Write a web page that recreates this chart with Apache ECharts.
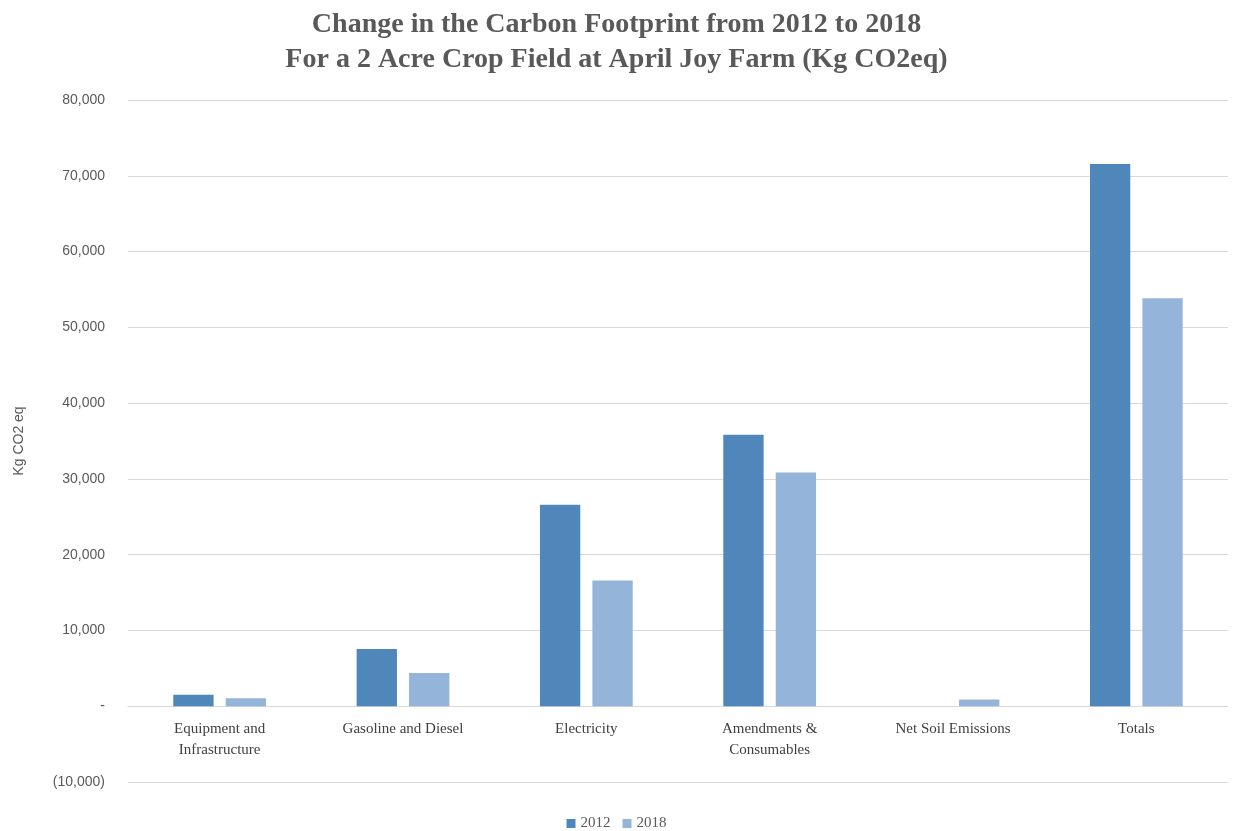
<!DOCTYPE html>
<html>
<head>
<meta charset="utf-8">
<script src="https://cdn.jsdelivr.net/npm/echarts@6/dist/echarts.min.js"></script>
<style>html,body{margin:0;padding:0;background:#fff;}#chart{width:1233px;height:831px;}</style>
</head>
<body>
<div id="chart"></div>
<script>
var categories = ["Equipment and\nInfrastructure", "Gasoline and Diesel", "Electricity", "Amendments &\nConsumables", "Net Soil Emissions", "Totals"];
var values2012 = [1500, 7550, 26600, 35840, 0, 71550];
var values2018 = [1050, 4390, 16600, 30830, 880, 53830];
var seriesNames = ["2012", "2018"];

var chart = echarts.init(document.getElementById('chart'));
var serif = "'Liberation Serif', 'DejaVu Serif', serif";
var sans = "'Liberation Sans', 'DejaVu Sans', sans-serif";
var gridTop = 100, gridBottom = 49, chartH = 831;
var yMin = -10000, yMax = 80000;
// place category axis at the zero line
var zeroOffset = -(chartH - gridTop - gridBottom) * (0 - yMin) / (yMax - yMin);
chart.setOption({
  animation: false,
  backgroundColor: '#ffffff',
  title: {
    text: 'Change in the Carbon Footprint from 2012 to 2018\nFor a 2 Acre Crop Field at April Joy Farm (Kg CO2eq)',
    left: 'center',
    top: 2,
    textStyle: { fontFamily: serif, fontSize: 28, fontWeight: 'bold', color: '#595959', lineHeight: 35 }
  },
  legend: {
    data: seriesNames,
    top: 811,
    left: 'center',
    itemWidth: 9,
    itemHeight: 9,
    itemGap: 12,
    icon: 'rect',
    textStyle: { fontFamily: serif, fontSize: 15, color: '#595959' }
  },
  grid: { left: 128, right: 5, top: gridTop, bottom: gridBottom },
  xAxis: {
    type: 'category',
    data: categories,
    offset: zeroOffset,
    axisTick: { show: false },
    axisLine: { show: true, onZero: false, lineStyle: { color: '#d9d9d9', width: 1 } },
    axisLabel: { fontFamily: serif, fontSize: 15, color: '#404040', lineHeight: 21, margin: 12 }
  },
  yAxis: {
    type: 'value',
    min: yMin,
    max: yMax,
    interval: 10000,
    name: 'Kg CO2 eq',
    nameLocation: 'middle',
    nameGap: 102,
    nameTextStyle: { fontFamily: sans, fontSize: 14, color: '#595959' },
    axisLine: { show: false },
    axisTick: { show: false },
    splitLine: { lineStyle: { color: '#d9d9d9', width: 1 } },
    axisLabel: {
      fontFamily: sans, fontSize: 14, color: '#595959', margin: 23,
      formatter: function (v) {
        if (v === 0) return '-';
        var s = Math.abs(v).toLocaleString('en-US');
        return v < 0 ? '(' + s + ')' : s;
      }
    }
  },
  series: [
    { name: seriesNames[0], type: 'bar', data: values2012, barWidth: '22%', barGap: '30%', itemStyle: { color: '#4f87ba' } },
    { name: seriesNames[1], type: 'bar', data: values2018, barWidth: '22%', barGap: '30%', itemStyle: { color: '#95b4da' } }
  ]
});
</script>
</body>
</html>
